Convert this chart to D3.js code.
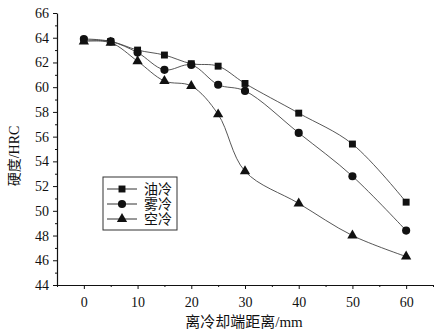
<!DOCTYPE html>
<html><head><meta charset="utf-8">
<script src="https://cdn.jsdelivr.net/npm/d3@7/dist/d3.min.js"></script>
<style>body{margin:0;background:#fff}svg{display:block}</style>
</head><body>
<script>
const distances = [0, 5, 10, 15, 20, 25, 30, 40, 50, 60];
const oilCooled = [63.8, 63.7, 63.0, 62.6, 61.9, 61.7, 60.3, 57.9, 55.4, 50.7];
const mistCooled = [63.9, 63.7, 62.8, 61.4, 61.8, 60.2, 59.7, 56.3, 52.8, 48.4];
const airCooled = [63.7, 63.6, 62.1, 60.5, 60.1, 57.8, 53.2, 50.6, 48.0, 46.3];
const seriesNames = ["油冷", "雾冷", "空冷"];
const xTicks = [0, 10, 20, 30, 40, 50, 60];
const yTicks = [44, 46, 48, 50, 52, 54, 56, 58, 60, 62, 64, 66];
const xTitle = "离冷却端距离/mm";
const yTitle = "硬度/HRC";

const W = 445, H = 334;
const svg = d3.select("body").append("svg").attr("width", W).attr("height", H);
const font = "'Liberation Serif','Noto Sans CJK SC',serif";
const x = d3.scaleLinear().domain([-5, 65]).range([57, 433]);
const y = d3.scaleLinear().domain([44, 66]).range([285, 13]);
const ink = "#111";

// axes
const xAxis = svg.append("g").attr("transform", `translate(0,${y(44)})`)
  .call(d3.axisBottom(x).tickValues(xTicks).tickSize(4).tickSizeOuter(0).tickFormat(d3.format("d")));
const xMinor = svg.append("g").attr("transform", `translate(0,${y(44)})`)
  .call(d3.axisBottom(x).tickValues(d3.range(-5, 66, 5).filter(v => v % 10 !== 0)).tickSize(2).tickSizeOuter(0).tickFormat(""));
const yAxis = svg.append("g").attr("transform", `translate(${x(-5)},0)`)
  .call(d3.axisLeft(y).tickValues(yTicks).tickSize(4).tickSizeOuter(0).tickFormat(d3.format("d")));
const yMinor = svg.append("g").attr("transform", `translate(${x(-5)},0)`)
  .call(d3.axisLeft(y).tickValues(d3.range(45, 66, 2)).tickSize(2).tickSizeOuter(0).tickFormat(""));
[xAxis, xMinor, yAxis, yMinor].forEach(g => {
  g.selectAll("path").attr("stroke", ink).attr("stroke-width", 1.2);
  g.selectAll("line").attr("stroke", ink);
  g.selectAll("text").attr("fill", ink).style("font-family", font).style("font-size", "14px");
});
xMinor.select("path").remove(); yMinor.select("path").remove();
xAxis.selectAll("text").attr("dy", "1.1em");
yAxis.selectAll("text").attr("dx", "-1px");

// titles
svg.append("text").attr("x", 244).attr("y", 327).attr("text-anchor", "middle")
  .style("font-family", font).style("font-size", "15px").attr("fill", ink).text(xTitle);
svg.append("text").attr("transform", `translate(19,${156}) rotate(-90)`).attr("text-anchor", "middle")
  .style("font-family", font).style("font-size", "14px").attr("fill", ink).text(yTitle);

const series = [oilCooled, mistCooled, airCooled];
const symbols = [d3.symbolSquare, d3.symbolCircle, d3.symbolTriangle];
const sizes = [48, 52, 46];
const line = d3.line().x(d => x(d[0])).y(d => y(d[1])).curve(d3.curveCatmullRom.alpha(0.5));

series.forEach((vals, i) => {
  const pts = distances.map((d, j) => [d, vals[j]]);
  svg.append("path").attr("d", line(pts)).attr("fill", "none").attr("stroke", "#444").attr("stroke-width", 0.9);
  svg.append("g").selectAll("path").data(pts).join("path")
    .attr("transform", d => `translate(${x(d[0])},${y(d[1])})`)
    .attr("d", d3.symbol().type(symbols[i]).size(sizes[i])).attr("fill", ink);
});

// legend
const lg = svg.append("g");
lg.append("rect").attr("x", 103).attr("y", 177).attr("width", 74).attr("height", 53)
  .attr("fill", "#fff").attr("stroke", "#333").attr("stroke-width", 1);
seriesNames.forEach((n, i) => {
  const yy = 189 + i * 15;
  lg.append("line").attr("x1", 107).attr("x2", 137).attr("y1", yy).attr("y2", yy).attr("stroke", "#333").attr("stroke-width", 1);
  lg.append("path").attr("transform", `translate(122,${yy})`).attr("d", d3.symbol().type(symbols[i]).size(sizes[i])).attr("fill", ink);
  lg.append("text").attr("x", 144).attr("y", yy + 5).style("font-family", font).style("font-size", "14px").attr("fill", ink).text(n);
});
</script>
</body></html>
